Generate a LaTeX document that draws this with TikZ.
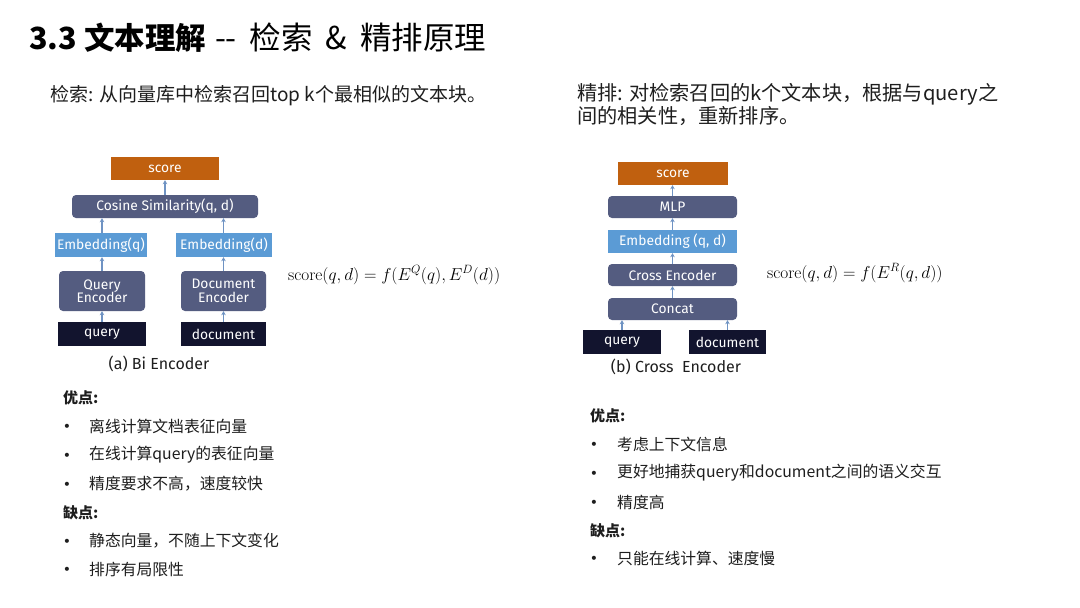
\documentclass[tikz,border=0pt]{standalone}
\usepackage[no-math]{fontspec}
\setmainfont{Noto Sans CJK SC}
\newfontfamily\boxfont{Fira Sans}
\newfontfamily\dejavu{DejaVu Sans}
\usetikzlibrary{arrows.meta}
\definecolor{orangebox}{HTML}{C0600F}
\definecolor{slatebox}{HTML}{545C80}
\definecolor{lightbox}{HTML}{5B9BD5}
\definecolor{navybox}{HTML}{12142E}
\definecolor{arrowc}{HTML}{6F93C3}
\definecolor{txt}{HTML}{1E1E1E}
\begin{document}
\begin{tikzpicture}[x=1pt,y=-1pt,
  base/.style={inner sep=0pt, text=white, font=\boxfont\fontsize{13.8}{15.5}\selectfont, align=center},
  orangeb/.style={base, fill=orangebox},
  slateb/.style={base, fill=slatebox, rounded corners=4pt},
  lightb/.style={base, fill=lightbox},
  navyb/.style={base, fill=navybox},
  arr/.style={draw=arrowc, line width=1.3pt, -{Stealth[length=4pt,width=4.5pt]}},
  bodytxt/.style={anchor=west, inner sep=0pt, text=txt, font=\fontsize{15.8}{18}\selectfont},
  headtxt/.style={anchor=west, inner sep=0pt, text=txt, font=\bfseries\fontsize{15}{18}\selectfont},
  bul/.style={anchor=base, inner sep=0pt, text=txt, font=\dejavu\fontsize{14}{16}\selectfont},
  caption/.style={inner sep=0pt, text=txt, font=\boxfont\fontsize{16}{18}\selectfont},
  formula/.style={anchor=west, inner sep=0pt, text=black, font=\fontsize{16.8}{20}\selectfont}
]
\useasboundingbox[fill=white] (0,0) rectangle (1080,608);

% Title
\node[anchor=west, inner sep=0pt, text=black, font=\fontsize{30.5}{34}\selectfont] (title) at (29,38)
  {\textbf{3.3 文本理解}\hspace{9pt}{\fontsize{31.5}{34}\selectfont -{}-\hspace{13pt}检索\hspace{13pt}\&\hspace{13pt}精排原理}};

% subtitles
\node[anchor=west, inner sep=0pt, text=txt, font=\fontsize{19}{22}\selectfont] (subl) at (50,96)
  {检索: 从向量库中检索召回top k个最相似的文本块。};
\node[anchor=north west, inner sep=0pt, text=txt, font=\fontsize{20.2}{23.5}\selectfont, align=left] (subr) at (577,83)
  {精排: 对检索召回的k个文本块，根据与query之\\间的相关性，重新排序。};

% ---- Left diagram (Bi Encoder)
\node[orangeb, minimum width=108pt, minimum height=23pt] (lscore) at (165,168.5) {score};
\node[slateb, minimum width=186pt, minimum height=23pt] (lcos) at (165,206.5) {Cosine Similarity(q, d)};
\node[lightb, minimum width=92pt, minimum height=24pt] (lemq) at (101,245) {Embedding(q)};
\node[lightb, minimum width=96pt, minimum height=24pt] (lemd) at (224,245) {Embedding(d)};
\node[slateb, minimum width=86pt, minimum height=40pt] (lqe) at (102,291) {Query\\[-2pt]Encoder};
\node[slateb, minimum width=85pt, minimum height=40pt] (lde) at (223.5,291) {Document\\[-2pt]Encoder};
\node[navyb, minimum width=88pt, minimum height=24pt] (lq) at (102,334) {query};
\node[navyb, minimum width=85pt, minimum height=24pt] (ld) at (223.5,334) {document};
\node[caption] (lcap) at (159,364) {(a) Bi Encoder};

\draw[arr] (lcos.north) -- (lscore.south);
\draw[arr] (lemq.north -| lqe.north) -- (lqe.north |- lcos.south);
\draw[arr] (lemd.north -| lde.north) -- (lde.north |- lcos.south);
\draw[arr] (lqe.north) -- (lqe.north |- lemq.south);
\draw[arr] (lde.north) -- (lde.north |- lemd.south);
\draw[arr] (lq.north) -- (lqe.south);
\draw[arr] (ld.north) -- (lde.south);

\node[formula] (lform) at (288,275) {$\mathrm{score}(q,d)=f(E^{Q}(q),E^{D}(d))$};

% ---- Right diagram (Cross Encoder)
\node[orangeb, minimum width=110pt, minimum height=23pt] (rscore) at (673,173.5) {score};
\node[slateb, minimum width=129pt, minimum height=22pt] (rmlp) at (672.5,207) {MLP};
\node[lightb, minimum width=129pt, minimum height=23pt] (remb) at (672.5,241.5) {Embedding (q, d)};
\node[slateb, minimum width=129pt, minimum height=22pt] (rce) at (672.5,275) {Cross Encoder};
\node[slateb, minimum width=129pt, minimum height=22pt] (rcc) at (672.5,309) {Concat};
\node[navyb, minimum width=78pt, minimum height=24pt] (rq) at (622,342) {query};
\node[navyb, minimum width=77pt, minimum height=24pt] (rd) at (727.5,342) {document};
\node[caption] (rcap) at (676,367) {(b) Cross\ \ Encoder};

\draw[arr] (rmlp.north) -- (rmlp.north |- rscore.south);
\draw[arr] (remb.north) -- (rmlp.south);
\draw[arr] (rce.north) -- (remb.south);
\draw[arr] (rcc.north) -- (rce.south);
\draw[arr] (rq.north) -- (rq.north |- rcc.south);
\draw[arr] (rd.north) -- (rd.north |- rcc.south);

\node[formula] (rform) at (767,273) {$\mathrm{score}(q,d)=f(E^{R}(q,d))$};

% ---- Left pros/cons
\node[headtxt] (lpro) at (63,398) {优点:};
\node[bul] (lb1) at (67,431) {•}; \node[bodytxt] (lt1) at (89,426) {离线计算文档表征向量};
\node[bul] (lb2) at (67,460) {•}; \node[bodytxt] (lt2) at (89,455) {在线计算query的表征向量};
\node[bul] (lb3) at (67,489) {•}; \node[bodytxt] (lt3) at (89,484) {精度要求不高，速度较快};
\node[headtxt] (lcon) at (63,513) {缺点:};
\node[bul] (lb4) at (67,546) {•}; \node[bodytxt] (lt4) at (89,541) {静态向量，不随上下文变化};
\node[bul] (lb5) at (67,574) {•}; \node[bodytxt] (lt5) at (89,569) {排序有局限性};

% ---- Right pros/cons
\node[headtxt] (rpro) at (590,416) {优点:};
\node[bul] (rb1) at (594,449) {•}; \node[bodytxt] (rt1) at (617,444) {考虑上下文信息};
\node[bul] (rb2) at (594,478) {•}; \node[bodytxt] (rt2) at (617,473) {更好地捕获query和document之间的语义交互};
\node[bul] (rb3) at (594,507) {•}; \node[bodytxt] (rt3) at (617,502) {精度高};
\node[headtxt] (rcon) at (590,531) {缺点:};
\node[bul] (rb4) at (594,563) {•}; \node[bodytxt] (rt4) at (617,558) {只能在线计算、速度慢};
\end{tikzpicture}
\end{document}
